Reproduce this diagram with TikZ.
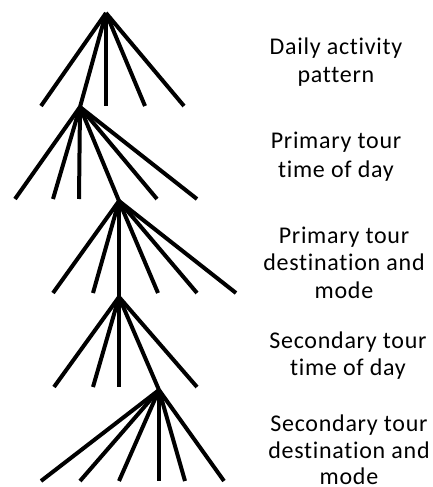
\documentclass[tikz,border=0pt]{standalone}
\usepackage{fontspec}
\setmainfont{Carlito}[RawFeature=-liga,LetterSpace=3]
\begin{document}
\begin{tikzpicture}[x=1pt,y=-1pt,
  branch/.style={line width=4pt,line cap=butt,line join=miter,black},
  lbl/.style={anchor=base,inner sep=0pt,font=\fontsize{24}{27}\selectfont}]
\useasboundingbox (0,0) rectangle (433,487);

% apexes of the five decision levels
\coordinate (a1) at (106,13);
\coordinate (a2) at (80,107);
\coordinate (a3) at (119,201);
\coordinate (a4) at (119,297);
\coordinate (a5) at (159,390);

% level 1 leaves
\coordinate (l1a) at (41,106);
\coordinate (l1b) at (106,106);
\coordinate (l1c) at (145,106);
\coordinate (l1d) at (184,106);
% level 2 leaves
\coordinate (l2a) at (15,199);
\coordinate (l2b) at (53,199);
\coordinate (l2c) at (79,199);
\coordinate (l2d) at (157,199);
\coordinate (l2e) at (197,199);
% level 3 leaves
\coordinate (l3a) at (53,293);
\coordinate (l3b) at (93,293);
\coordinate (l3c) at (158,293);
\coordinate (l3d) at (197,293);
\coordinate (l3e) at (236,293);
% level 4 leaves
\coordinate (l4a) at (54,387);
\coordinate (l4b) at (93,387);
\coordinate (l4c) at (119,387);
\coordinate (l4d) at (197,387);
% level 5 leaves
\coordinate (l5a) at (41,481);
\coordinate (l5b) at (80,481);
\coordinate (l5c) at (119,481);
\coordinate (l5d) at (159,481);
\coordinate (l5e) at (185,481);
\coordinate (l5f) at (224,481);

% branches
\foreach \e in {l1a,a2,l1b,l1c,l1d} \draw[branch] (a1) -- (\e);
\foreach \e in {l2a,l2b,l2c,a3,l2d,l2e} \draw[branch] (a2) -- (\e);
\foreach \e in {l3a,l3b,a4,l3c,l3d,l3e} \draw[branch] (a3) -- (\e);
\foreach \e in {l4a,l4b,l4c,a5,l4d} \draw[branch] (a4) -- (\e);
\foreach \e in {l5a,l5b,l5c,l5d,l5e,l5f} \draw[branch] (a5) -- (\e);

% level labels
\node[lbl] (t1a) at (336,55) {Daily activity};
\node[lbl] (t1b) at (336,82) {pattern};
\node[lbl] (t2a) at (336,148) {Primary tour};
\node[lbl] (t2b) at (336,177) {time of day};
\node[lbl] (t3a) at (344,243) {Primary tour};
\node[lbl] (t3b) at (344,270) {destination and};
\node[lbl] (t3c) at (344,298) {mode};
\node[lbl] (t4a) at (348,348) {Secondary tour};
\node[lbl] (t4b) at (348,375) {time of day};
\node[lbl] (t5a) at (349,431) {Secondary tour};
\node[lbl] (t5b) at (349,458) {destination and};
\node[lbl] (t5c) at (349,484) {mode};
\end{tikzpicture}
\end{document}
